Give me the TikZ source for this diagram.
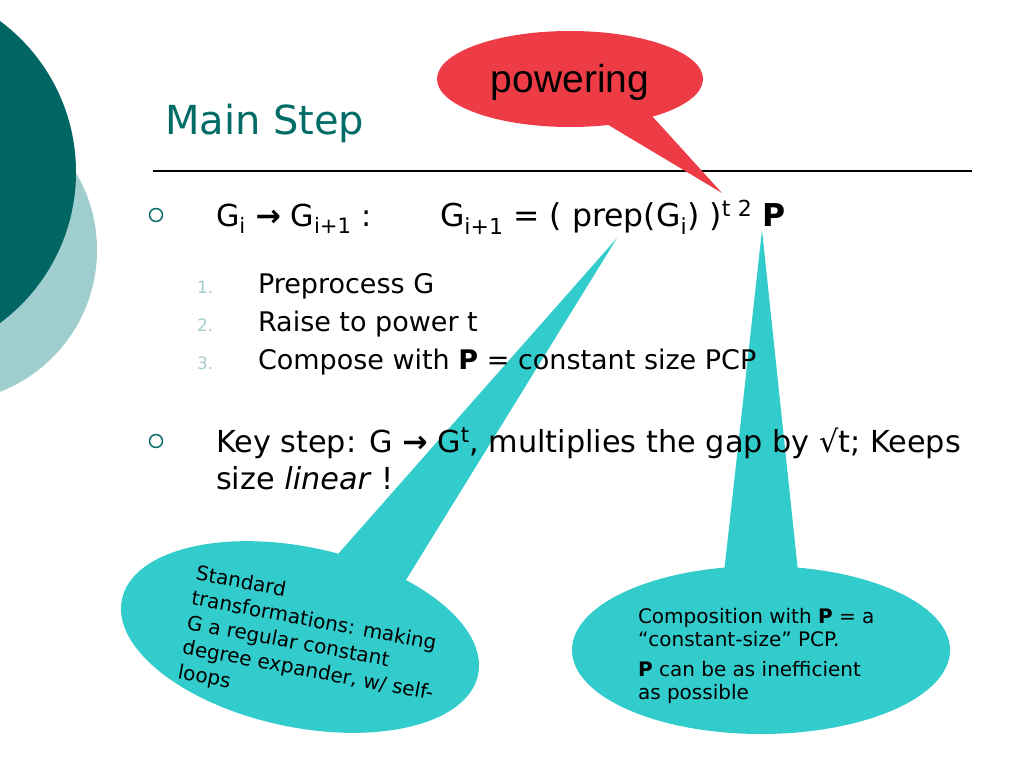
\documentclass[tikz,border=0pt]{standalone}
\usepackage{fontspec}
\setmainfont{DejaVu Sans}
\newfontfamily\arialf{Liberation Sans}
\definecolor{darkteal}{RGB}{0,102,99}
\definecolor{lightteal}{RGB}{160,205,205}
\definecolor{titleteal}{RGB}{0,108,102}
\definecolor{calloutteal}{RGB}{51,204,204}
\definecolor{calloutred}{RGB}{238,60,70}
\definecolor{numgray}{RGB}{165,205,205}
\begin{document}
\begin{tikzpicture}[x=1pt,y=-1pt,
  every node/.style={inner sep=0pt, outer sep=0pt},
  bigtext/.style={anchor=base west, font=\fontsize{30.3}{36}\selectfont},
  itemtext/.style={anchor=base west, font=\fontsize{27}{32}\selectfont},
  numtext/.style={anchor=base west, text=numgray, font=\fontsize{17}{20}\selectfont},
  bulletmark/.style={draw=darkteal, line width=1.4pt, circle, minimum size=13pt},
  calltext/.style={align=left, font=\fontsize{20}{25}\selectfont}]
\useasboundingbox (0,0) rectangle (1024,768);
\fill[white] (0,0) rectangle (1024,768);
% decorative circles
\begin{scope}
\clip (0,0) rectangle (1024,768);
\fill[lightteal] (-55,250) circle[radius=152pt];
\fill[darkteal] (-112,172) circle[radius=188pt];
\end{scope}
% title and rule
\node[anchor=base west, text=titleteal, font=\fontsize{40}{48}\selectfont] (title) at (165,134) {Main Step};
\coordinate (ruleL) at (153,171);
\coordinate (ruleR) at (972,171);
\draw[line width=1.1pt] (ruleL) -- (ruleR);
% callouts (behind text)
\coordinate (redtip) at (722,193);
\fill[calloutred] (570,79) ellipse[x radius=133pt, y radius=48pt];
\fill[calloutred] (605,123) -- (redtip) -- (652,116) -- cycle;
\coordinate (lefttip) at (617,238);
\fill[calloutteal, rotate around={-12:(300,637)}] (300,637) ellipse[x radius=182pt, y radius=90pt];
\fill[calloutteal] (316,579) -- (lefttip) -- (393,601) -- cycle;
\coordinate (righttip) at (762,230);
\fill[calloutteal] (761,650) ellipse[x radius=189pt, y radius=84pt];
\fill[calloutteal] (721,600) -- (righttip) -- (801,600) -- cycle;
% callout texts
\node[font=\arialf\fontsize{39}{44}\selectfont, anchor=base] (powering) at (570,92) {powering};
\node[calltext, anchor=north west, rotate=-10.5] (lefttext) at (198,565)
  {Standard\\transformations: making\\G a regular constant\\degree expander, w/ self-\\loops};
\node[calltext, anchor=north west, font=\fontsize{20}{23}\selectfont] (righttext) at (638,608)
  {Composition with \textbf{P} = a\\“constant-size” PCP.\\[7pt]\textbf{P} can be as inefficient\\as possible};
% bullets
\node[bulletmark] (b1) at (156,215) {};
\node[bulletmark] (b2) at (156,441) {};
% line 1
\node[bigtext] (l1a) at (216,226) {G\textsubscript{i} {\bfseries →} G\textsubscript{i+1} :};
\node[bigtext, font=\fontsize{31.5}{36}\selectfont] (l1b) at (440,226) {G\textsubscript{i+1} = ( prep(G\textsubscript{i}) )\textsuperscript{t\,\,2} \textbf{P}};
% numbered items
\node[numtext] (n1) at (197,293) {1.};
\node[numtext] (n2) at (197,331) {2.};
\node[numtext] (n3) at (197,369) {3.};
\node[itemtext] (i1) at (258,293) {Preprocess G};
\node[itemtext] (i2) at (258,331) {Raise to power t};
\node[itemtext] (i3) at (258,369) {Compose with \textbf{P} = constant size PCP};
% key step
\node[bigtext] (k1) at (216,452) {Key step: G {\bfseries →} G\textsuperscript{t}, multiplies the gap by √t; Keeps};
\node[bigtext] (k2) at (216,489) {size \textit{linear} !};
\end{tikzpicture}
\end{document}
